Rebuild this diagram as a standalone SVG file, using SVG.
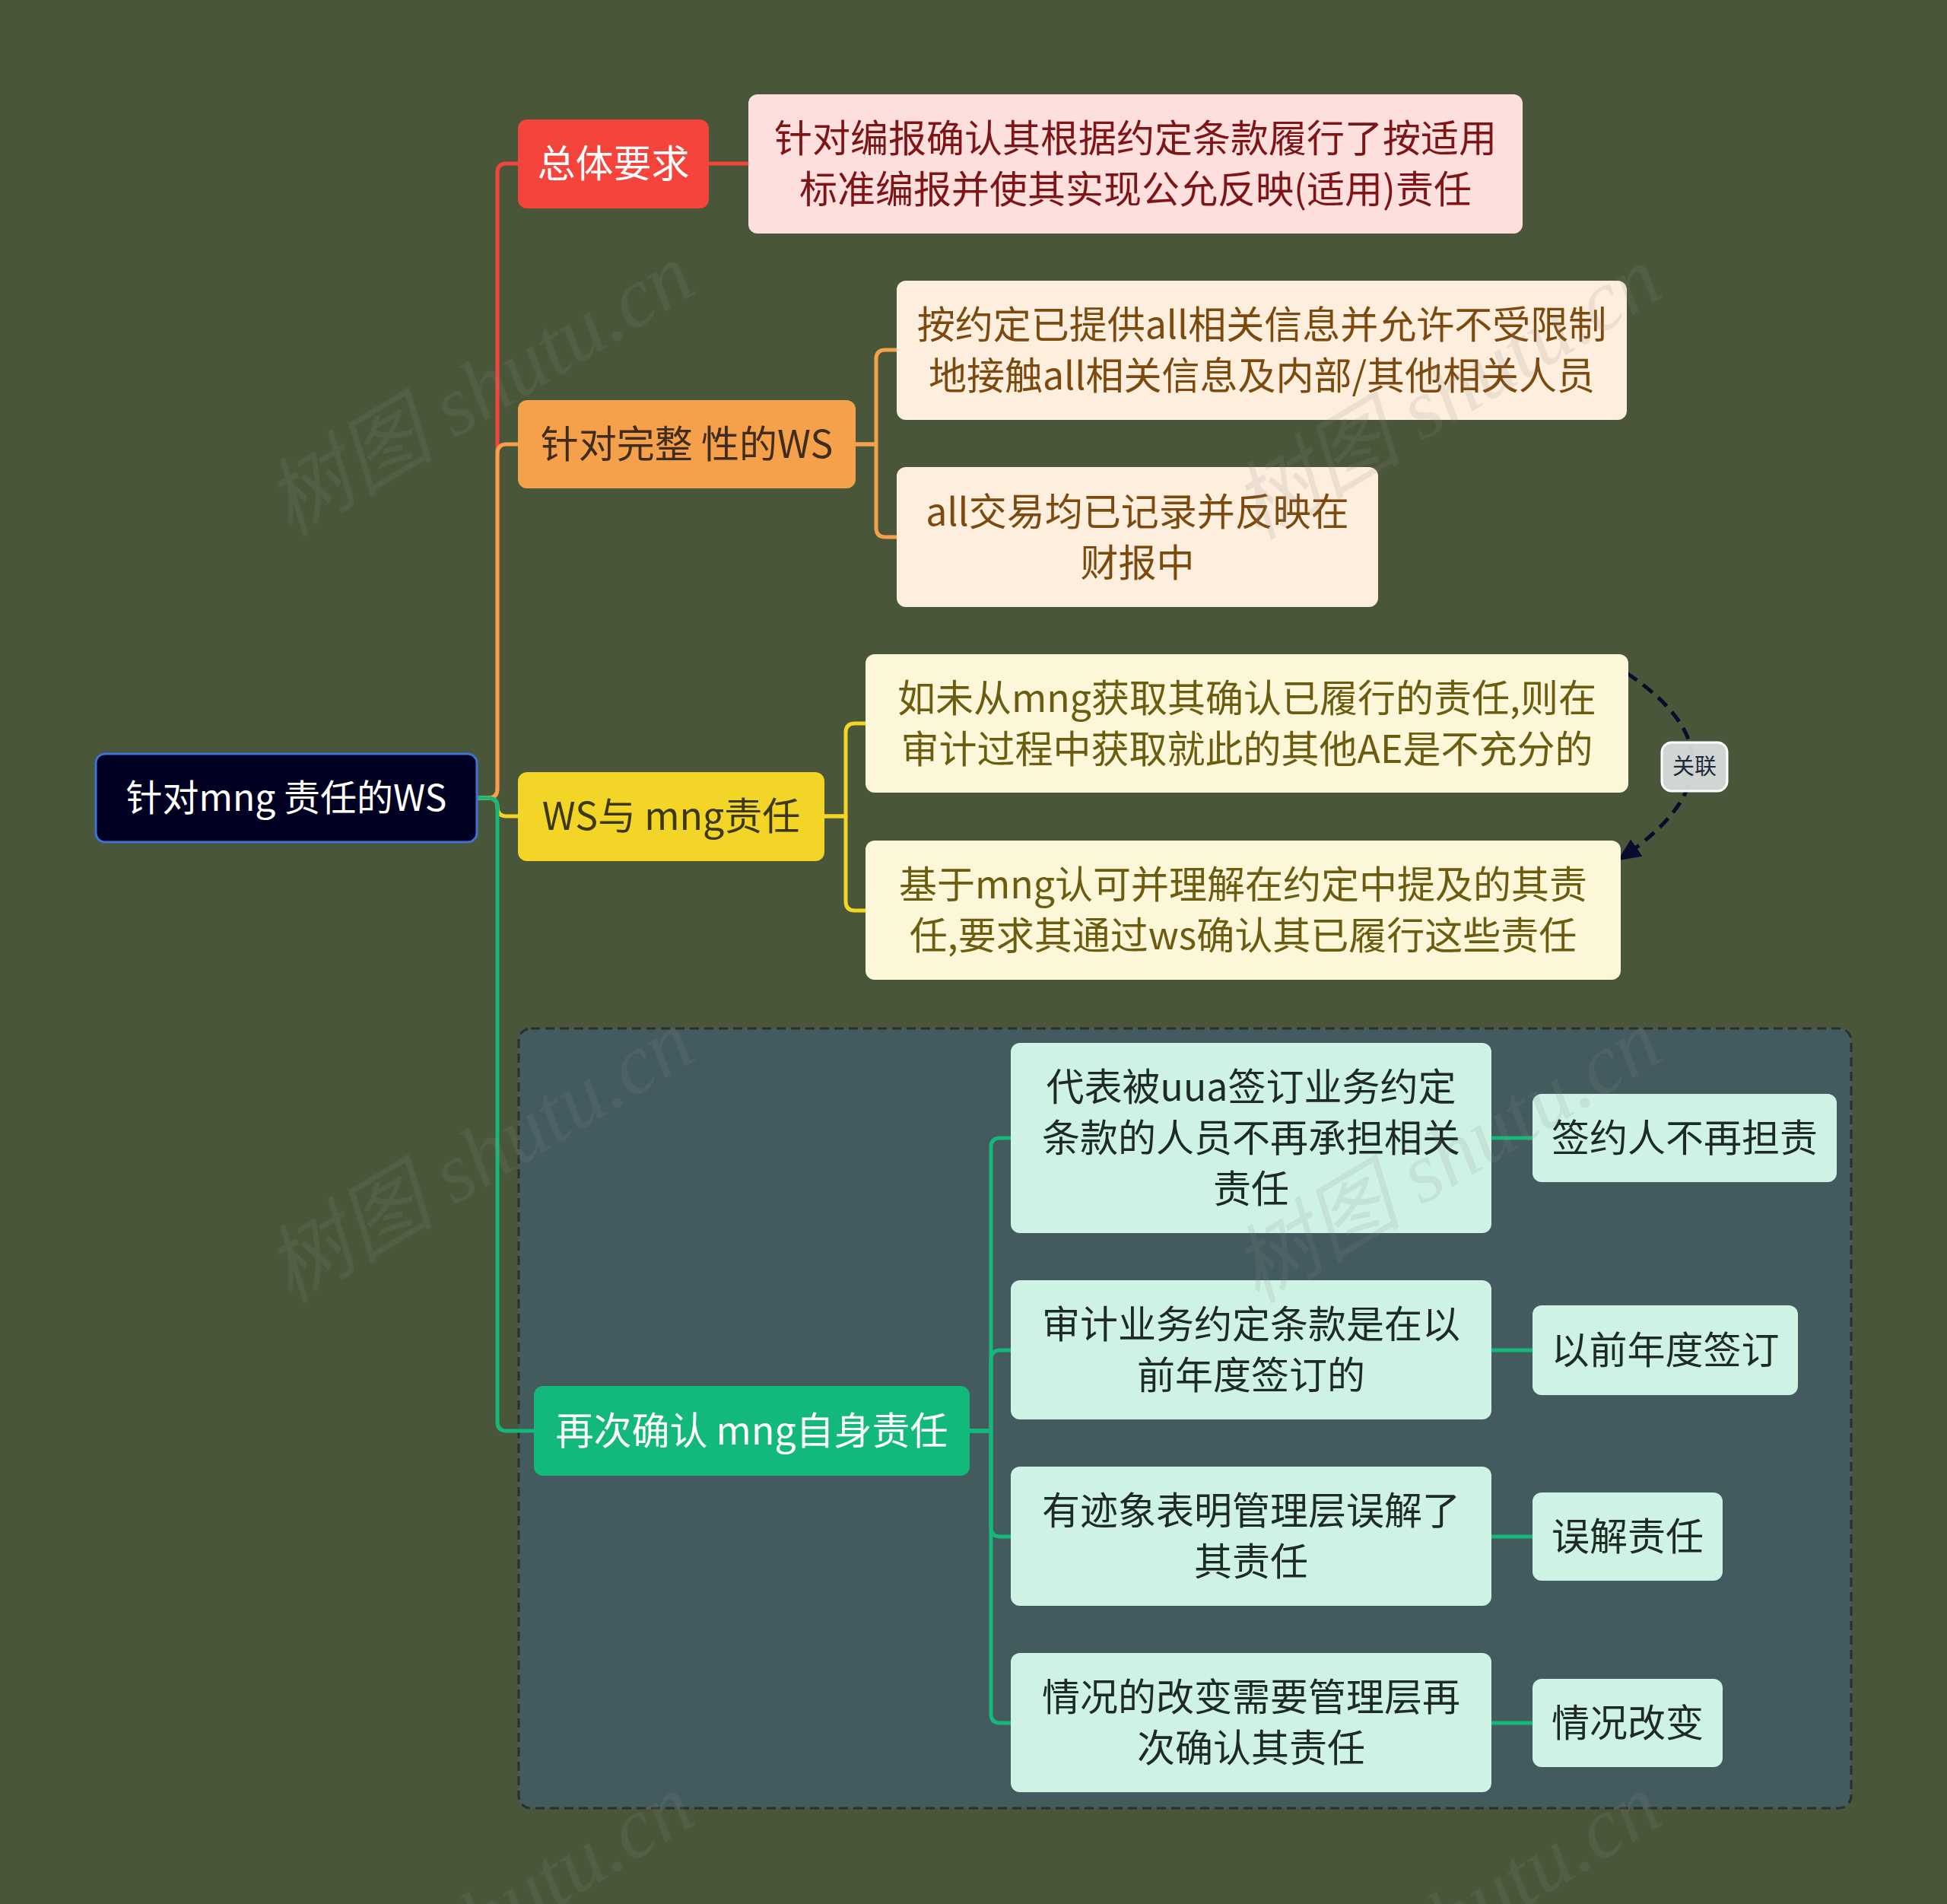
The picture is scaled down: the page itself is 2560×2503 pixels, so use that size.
<svg xmlns="http://www.w3.org/2000/svg" width="2560" height="2503" viewBox="0 0 2560 2503">
<style>
  .t { font-family: "Noto Sans CJK SC", "Noto Sans", sans-serif; font-size: 50px; text-anchor: middle; }
  .wm { font-family: "Liberation Serif", "Noto Sans CJK SC", serif; font-size: 112px; font-style: italic; text-anchor: middle; fill: #8c8c8c; fill-opacity: 0.15; }
  .ln { fill: none; stroke-width: 5; stroke-linecap: round; stroke-linejoin: round; }
  .red { stroke: #f5443b; }
  .org { stroke: #f5a14b; }
  .yel { stroke: #f2d526; }
  .grn { stroke: #13b97b; }
  .c-white { fill: #ffffff; }
</style>
<defs>
  <marker id="arr" viewBox="0 0 20 20" refX="16" refY="10" markerWidth="30" markerHeight="30" markerUnits="userSpaceOnUse" orient="auto">
    <path d="M0,1 L20,10 L0,19 z" fill="#0b0b2e"/>
  </marker>
</defs>
<rect x="0" y="0" width="2560" height="2503" fill="#4a5639"/>

<g id="boundary">
  <rect x="682" y="1352" width="1752" height="1025" rx="16" fill="#435a5e" stroke="#2a2f2f" stroke-width="3" stroke-dasharray="12 7"/>
</g>

<g id="connectors">
  <path class="ln red" d="M627,1049 H642 Q654,1049 654,1037 V227 Q654,215 666,215 H681"/>
  <path class="ln org" d="M627,1049 H642 Q654,1049 654,1037 V596 Q654,584 666,584 H681"/>
  <path class="ln yel" d="M627,1049 H642 Q654,1049 654,1061 Q654,1073 666,1073 H681"/>
  <path class="ln grn" d="M627,1049 H642 Q654,1049 654,1061 V1869 Q654,1881 666,1881 H702"/>
  <path class="ln red" d="M932,215 H984"/>
  <path class="ln org" d="M1125,584 H1152 V472 Q1152,460 1164,460 H1179"/>
  <path class="ln org" d="M1125,584 H1152 V694 Q1152,706 1164,706 H1179"/>
  <path class="ln yel" d="M1084,1073 H1112 V963 Q1112,951 1124,951 H1138"/>
  <path class="ln yel" d="M1084,1073 H1112 V1185 Q1112,1197 1124,1197 H1138"/>
  <path class="ln grn" d="M1275,1881 H1303 V1508 Q1303,1496 1315,1496 H1329"/>
  <path class="ln grn" d="M1275,1881 H1303 V1787 Q1303,1775 1315,1775 H1329"/>
  <path class="ln grn" d="M1275,1881 H1303 V2008 Q1303,2020 1315,2020 H1329"/>
  <path class="ln grn" d="M1275,1881 H1303 V2253 Q1303,2265 1315,2265 H1329"/>
  <path class="ln grn" d="M1961,1496 H2015"/>
  <path class="ln grn" d="M1961,1775 H2015"/>
  <path class="ln grn" d="M1961,2020 H2015"/>
  <path class="ln grn" d="M1961,2265 H2015"/>
  <path d="M2139,885 Q2316,1003 2132,1128" fill="none" stroke="#0b0b2e" stroke-width="5" stroke-dasharray="16 10" marker-end="url(#arr)"/>
</g>

<g id="root">
  <rect x="126" y="991" width="501" height="116" rx="12" fill="#000022" stroke="#3d72d6" stroke-width="3"/>
  <text class="t c-white" x="376.5" y="1066" style="font-size:48px">针对mng 责任的WS</text>
</g>

<g id="n-zongti">
  <rect x="681" y="157" width="251" height="117" rx="12" fill="#f5443b"/>
  <text class="t c-white" x="806.5" y="233">总体要求</text>
</g>
<g id="n-zongti-1">
  <rect x="984" y="124" width="1018" height="183" rx="12" fill="#fde0dd"/>
  <text class="t" x="1493" y="200" fill="#7e1416">针对编报确认其根据约定条款履行了按适用</text>
  <text class="t" x="1493" y="267" fill="#7e1416">标准编报并使其实现公允反映(适用)责任</text>
</g>

<g id="n-wanzheng">
  <rect x="681" y="526" width="444" height="116" rx="12" fill="#f5a14b"/>
  <text class="t" x="903" y="602" fill="#3f2c1c">针对完整 性的WS</text>
</g>
<g id="n-wanzheng-1">
  <rect x="1179" y="369" width="960" height="183" rx="12" fill="#fdeedd"/>
  <text class="t" x="1659" y="445" fill="#7c4a0e">按约定已提供all相关信息并允许不受限制</text>
  <text class="t" x="1659" y="512" fill="#7c4a0e">地接触all相关信息及内部/其他相关人员</text>
</g>
<g id="n-wanzheng-2">
  <rect x="1179" y="614" width="633" height="184" rx="12" fill="#fdeedd"/>
  <text class="t" x="1495.5" y="691" fill="#7c4a0e">all交易均已记录并反映在</text>
  <text class="t" x="1495.5" y="758" fill="#7c4a0e">财报中</text>
</g>

<g id="n-ws">
  <rect x="681" y="1015" width="403" height="117" rx="12" fill="#f2d526"/>
  <text class="t" x="882.5" y="1091" fill="#3d3812">WS与 mng责任</text>
</g>
<g id="n-ws-1">
  <rect x="1138" y="860" width="1003" height="182" rx="12" fill="#fdf7d9"/>
  <text class="t" x="1639.5" y="936" fill="#6c5c10">如未从mng获取其确认已履行的责任,则在</text>
  <text class="t" x="1639.5" y="1003" fill="#6c5c10">审计过程中获取就此的其他AE是不充分的</text>
</g>
<g id="n-ws-2">
  <rect x="1138" y="1105" width="993" height="183" rx="12" fill="#fdf7d9"/>
  <text class="t" x="1634.5" y="1181" fill="#6c5c10">基于mng认可并理解在约定中提及的其责</text>
  <text class="t" x="1634.5" y="1248" fill="#6c5c10">任,要求其通过ws确认其已履行这些责任</text>
</g>

<g id="rel-label">
  <rect x="2185" y="976" width="86" height="64" rx="13" fill="#dcdfe0" fill-opacity="0.93" stroke="#ffffff" stroke-width="3"/>
  <text x="2228" y="1018" style="font-family:'Noto Sans CJK SC',sans-serif;font-size:29px;text-anchor:middle" fill="#1e2a3a">关联</text>
</g>

<g id="n-zaici">
  <rect x="702" y="1822" width="573" height="118" rx="12" fill="#13b97b"/>
  <text class="t c-white" x="988.5" y="1899">再次确认 mng自身责任</text>
</g>
<g id="n-zaici-1">
  <rect x="1329" y="1371" width="632" height="250" rx="12" fill="#cef2e3"/>
  <text class="t" x="1645" y="1447" fill="#1e2b24">代表被uua签订业务约定</text>
  <text class="t" x="1645" y="1514" fill="#1e2b24">条款的人员不再承担相关</text>
  <text class="t" x="1645" y="1581" fill="#1e2b24">责任</text>
</g>
<g id="n-zaici-1a">
  <rect x="2015" y="1438" width="400" height="116" rx="12" fill="#cef2e3"/>
  <text class="t" x="2215" y="1514" fill="#1e2b24">签约人不再担责</text>
</g>
<g id="n-zaici-2">
  <rect x="1329" y="1683" width="632" height="183" rx="12" fill="#cef2e3"/>
  <text class="t" x="1645" y="1759" fill="#1e2b24">审计业务约定条款是在以</text>
  <text class="t" x="1645" y="1826" fill="#1e2b24">前年度签订的</text>
</g>
<g id="n-zaici-2a">
  <rect x="2015" y="1716" width="349" height="118" rx="12" fill="#cef2e3"/>
  <text class="t" x="2189.5" y="1793" fill="#1e2b24">以前年度签订</text>
</g>
<g id="n-zaici-3">
  <rect x="1329" y="1928" width="632" height="183" rx="12" fill="#cef2e3"/>
  <text class="t" x="1645" y="2004" fill="#1e2b24">有迹象表明管理层误解了</text>
  <text class="t" x="1645" y="2071" fill="#1e2b24">其责任</text>
</g>
<g id="n-zaici-3a">
  <rect x="2015" y="1962" width="250" height="116" rx="12" fill="#cef2e3"/>
  <text class="t" x="2140" y="2038" fill="#1e2b24">误解责任</text>
</g>
<g id="n-zaici-4">
  <rect x="1329" y="2173" width="632" height="183" rx="12" fill="#cef2e3"/>
  <text class="t" x="1645" y="2249" fill="#1e2b24">情况的改变需要管理层再</text>
  <text class="t" x="1645" y="2316" fill="#1e2b24">次确认其责任</text>
</g>
<g id="n-zaici-4a">
  <rect x="2015" y="2207" width="250" height="116" rx="12" fill="#cef2e3"/>
  <text class="t" x="2140" y="2283" fill="#1e2b24">情况改变</text>
</g>

<g id="watermarks">
  <text class="wm" transform="translate(650,545) rotate(-31)">树图 shutu.cn</text>
  <text class="wm" transform="translate(1922,549) rotate(-31)">树图 shutu.cn</text>
  <text class="wm" transform="translate(650,1553) rotate(-31)">树图 shutu.cn</text>
  <text class="wm" transform="translate(1922,1553) rotate(-31)">树图 shutu.cn</text>
  <text class="wm" transform="translate(650,2557) rotate(-31)">树图 shutu.cn</text>
  <text class="wm" transform="translate(1922,2557) rotate(-31)">树图 shutu.cn</text>
</g>
</svg>
